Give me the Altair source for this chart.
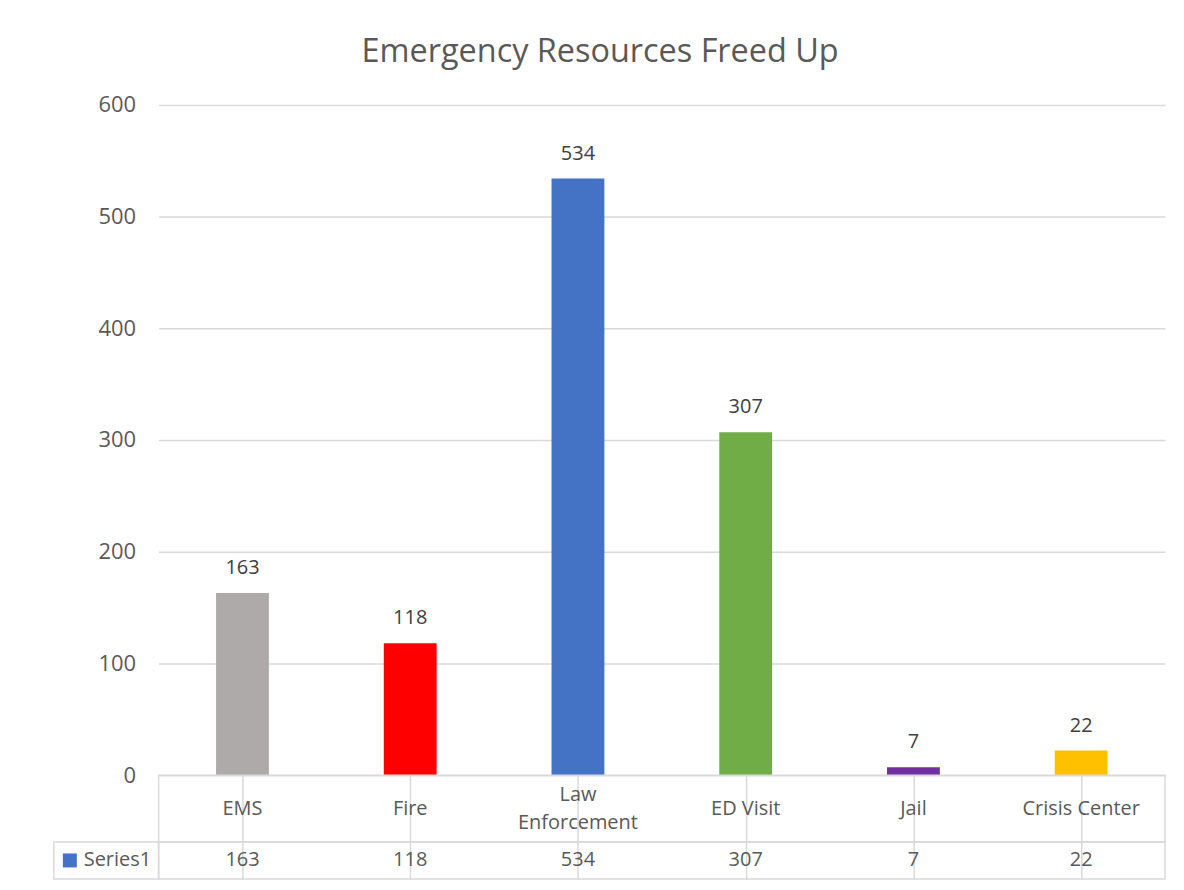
import altair as alt
import pandas as pd

categories = ["EMS", "Fire", "Law Enforcement", "ED Visit", "Jail", "Crisis Center"]
table_labels = ["EMS", "Fire", "Law\nEnforcement", "ED Visit", "Jail", "Crisis Center"]
values = [163, 118, 534, 307, 7, 22]
bar_colors = ["#AEAAAA", "#FF0000", "#4472C4", "#70AD47", "#7030A0", "#FFC000"]
series_name = "Series1"
y_ticks = [0, 100, 200, 300, 400, 500, 600]

df = pd.DataFrame({
    "category": categories,
    "label": table_labels,
    "value": values,
    "color": bar_colors,
    "series": [series_name] * len(categories),
})
df["multiline"] = df["label"].str.contains("\n")

FONT = "Open Sans"
GRID = "#D9D9D9"
TXT = "#595959"

x_bar = alt.X("category:N", sort=categories, axis=None,
              scale=alt.Scale(paddingInner=0.685, paddingOuter=0.3425))

base = alt.Chart(df).encode(x=x_bar)
bars = base.mark_bar().encode(
    y=alt.Y("value:Q", scale=alt.Scale(domain=[0, 600]),
            axis=alt.Axis(values=y_ticks, grid=True, gridColor=GRID, gridWidth=1.5,
                          domain=False, ticks=False, labelPadding=23, labelFontSize=22,
                          labelColor=TXT, labelFont=FONT, title=None)),
    color=alt.Color("color:N", scale=None),
)
labels = base.mark_text(baseline="bottom", dy=-15, fontSize=20, font=FONT, color="#404040").encode(
    y="value:Q", text="value:Q"
)
top = (bars + labels).properties(width=1009, height=672)

x_tab = alt.X("category:N", sort=categories,
              scale=alt.Scale(paddingInner=0, paddingOuter=0),
              axis=alt.Axis(grid=True, bandPosition=0, gridColor=GRID, gridWidth=1.5,
                            labels=False, ticks=False, domain=False, title=None))

cat_single = alt.Chart(df).transform_filter("!datum.multiline").mark_text(
    fontSize=20, font=FONT, color=TXT).encode(x=x_tab, text="label:N")
cat_multi = alt.Chart(df).transform_filter("datum.multiline").mark_text(
    lineBreak="\n", fontSize=20, font=FONT, color=TXT, lineHeight=28, dy=-14
).encode(x=x_tab, text="label:N")
cat_row = (cat_single + cat_multi).properties(
    width=1009, height=67, view=alt.ViewBackground(stroke=GRID, strokeWidth=1.5))

y_series = alt.Y("series:N", scale=alt.Scale(paddingInner=0, paddingOuter=0),
                 axis=alt.Axis(title=None, ticks=False, domain=False, labelPadding=8,
                               labelFontSize=20, labelFont=FONT, labelColor=TXT))

val_text = alt.Chart(df).mark_text(fontSize=20, font=FONT, color=TXT).encode(
    x=x_tab, y=y_series, text="value:Q"
)
header_box = alt.Chart(df.head(1)).mark_rect(fill="white", fillOpacity=0, stroke=GRID,
                                              strokeWidth=1.5).encode(
    x=alt.value(-105), x2=alt.value(0), y=y_series
)
key = alt.Chart(df.head(1)).mark_square(size=196, color="#4472C4", opacity=1).encode(
    x=alt.value(-89), y=y_series
)
val_row = (header_box + key + val_text).properties(
    width=1009, height=37, view=alt.ViewBackground(stroke=GRID, strokeWidth=1.5))

chart = alt.vconcat(top, cat_row, val_row, spacing=0, bounds="flush").properties(
    title=alt.Title("Emergency Resources Freed Up", fontSize=32.5, font=FONT,
                    fontWeight="normal", color=TXT, anchor="middle", offset=25, dx=-9),
    padding={"left": 44, "top": 27, "right": 10, "bottom": 4},
    background="white",
).configure_view(strokeWidth=0)

chart.save("out.html", embed_options={"renderer": "svg", "actions": False})
